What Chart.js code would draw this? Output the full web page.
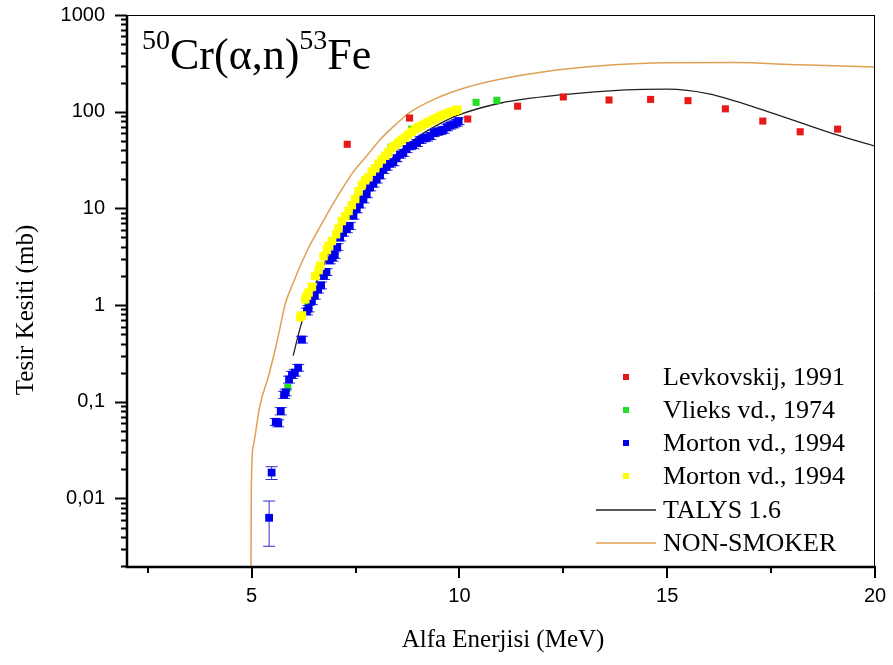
<!DOCTYPE html>
<html>
<head>
<meta charset="utf-8">
<script src="https://cdn.jsdelivr.net/npm/chart.js@4.4.1/dist/chart.umd.min.js"></script>
<style>
  html, body { margin: 0; padding: 0; background: #fff; }
</style>
</head>
<body>
<canvas id="chart" width="893" height="665"></canvas>
<script>
// Levkovskij, 1991
const levE = [7.3, 8.8, 10.2, 11.4, 12.5, 13.6, 14.6, 15.5, 16.4, 17.3, 18.2, 19.1]
const levXS = [46, 86, 84, 114, 142, 132, 134, 130, 107, 80, 62, 66]

// Vlieks vd., 1974
const vliE = [5.87, 6.35, 7.4, 8.35, 8.85, 10.4, 10.9]
const vliXS = [0.14, 1.0, 8.5, 43, 66, 125, 131]

// Morton vd., 1994 (blue, with error bars)
const morBlueE = [5.42, 5.48, 5.58, 5.64, 5.70, 5.78, 5.82, 5.90, 5.97, 6.04, 6.12, 6.21, 6.33, 6.37, 6.45,
  6.52, 6.60, 6.67, 6.74, 6.80, 6.88, 6.95, 7.00, 7.06, 7.13, 7.20, 7.29, 7.36, 7.45, 7.53, 7.60, 7.69,
  7.77, 7.85, 7.93, 8.01, 8.09, 8.17, 8.25, 8.33, 8.41, 8.49, 8.57, 8.65, 8.73, 8.81, 8.89, 8.98, 9.06,
  9.14, 9.22, 9.30, 9.38, 9.46, 9.54, 9.62, 9.70, 9.78, 9.86, 9.94, 9.98]
const morBlueXS = [0.0063, 0.0185, 0.062, 0.060, 0.080, 0.118, 0.125, 0.17, 0.19, 0.20, 0.225, 0.44, 0.86, 0.92, 1.1,
  1.25, 1.45, 1.6, 2.0, 2.2, 2.9, 3.1, 3.3, 4.0, 5.0, 5.6, 6.1, 6.6, 8.4, 9.8, 11, 12.4,
  14, 16.5, 18, 19.9, 22, 25, 27, 29, 30, 33, 36, 37.5, 41, 44, 45, 47.5, 51,
  53, 54, 56, 60, 62, 63, 65, 69, 72, 74, 77, 80]
const morBlueErr = [0.0031, 0.0028, 0.005, 0.005, 0.007, 0.01, 0.01, 0.014, 0.016, 0.016, 0.018, 0.035, 0.07, 0.07, 0.09,
  0.1, 0.12, 0.13, 0.16, 0.18, 0.23, 0.25, 0.26, 0.32, 0.4, 0.45, 0.5, 0.53, 0.67, 0.8, 0.9, 1.0,
  1.1, 1.3, 1.4, 1.6, 1.8, 2.0, 2.2, 2.3, 2.4, 2.6, 2.9, 3.0, 3.3, 3.5, 3.6, 3.8, 4.1,
  4.2, 4.3, 4.5, 4.8, 5.0, 5.0, 5.2, 5.5, 5.8, 5.9, 6.2, 6.4]

// Morton vd., 1994 (yellow)
const morYelE = [6.17, 6.21, 6.29, 6.33, 6.37, 6.45, 6.53, 6.61, 6.65, 6.73, 6.81, 6.85, 6.93, 7.03, 7.09,
  7.17, 7.25, 7.33, 7.41, 7.49, 7.57, 7.65, 7.73, 7.81, 7.89, 7.97, 8.05, 8.13, 8.21, 8.29, 8.37, 8.45,
  8.53, 8.61, 8.69, 8.77, 8.85, 8.93, 9.01, 9.09, 9.17, 9.25, 9.33, 9.41, 9.49, 9.57, 9.65, 9.73, 9.81,
  9.89, 9.95]
const morYelXS = [0.75, 0.78, 1.15, 1.25, 1.35, 1.55, 2.0, 2.3, 2.55, 3.2, 3.7, 4.1, 4.6, 5.4, 6.2,
  7.4, 8.3, 9.4, 10.8, 12.5, 15, 17.5, 19.5, 21, 24, 26, 29, 32, 35, 38, 42, 45,
  48, 51, 54, 58, 62, 66, 69, 72, 75, 78, 81, 84, 88, 91, 94, 97, 100,
  102, 105]

// TALYS 1.6
const talysE = [6.0, 6.1, 6.2, 6.35, 6.5, 6.75, 7.0, 7.25, 7.5, 8.0, 8.5, 9.0, 9.5, 10.0, 11.0, 12.5, 14.0, 15.0, 16.0, 17.4, 19.0, 20.0]
const talysXS = [0.3, 0.45, 0.65, 1.0, 1.5, 2.7, 5.0, 7.5, 11, 22, 37, 55, 74, 93, 123, 150, 168, 171, 153, 101, 59, 44]

// NON-SMOKER
const nsE = [4.985, 4.99, 5.04, 5.2, 5.4, 5.6, 5.75, 5.8, 6.0, 6.33, 6.65, 6.95, 7.2, 7.45, 7.77, 8.1, 8.5, 8.8, 9.4, 10.2, 11.0, 12.0, 13.4, 15.0, 16.6, 18.2, 20.0]
const nsXS = [0.002, 0.012, 0.035, 0.092, 0.18, 0.4, 0.8, 1.0, 1.7, 3.6, 6.5, 11, 16.5, 24, 35, 52, 76, 98, 135, 180, 218, 258, 298, 320, 322, 305, 290]

// axes
const xTicks = [2.5, 5, 7.5, 10, 12.5, 15, 17.5, 20]
const xTickLabels = ['', '5', '', '10', '', '15', '', '20']
const yMajor = [0.01, 0.1, 1, 10, 100, 1000]
const yTickLabels = ['0,01', '0,1', '1', '10', '100', '1000']

const serif = "'Liberation Serif', 'Times New Roman', serif"
const sans = "'Liberation Sans', Arial, sans-serif"

const pts = (xs, ys) => xs.map((x, i) => ({ x, y: ys[i] }))

// every 1..9 x 10^n step between 0.002 and 1000
const yAllTicks = []
for (let e = -3; e <= 2; e++) {
  for (let m = 1; m <= 9; m++) {
    const v = +(m * Math.pow(10, e)).toPrecision(3)
    if (v >= 0.002) yAllTicks.push(v)
  }
}
yAllTicks.push(1000)

const decor = {
  id: 'decor',
  beforeDatasetDraw(chart, args) {
    if (args.index !== 2) return
    const ctx = chart.ctx
    const ys = chart.scales.y
    const meta = chart.getDatasetMeta(2)
    ctx.save()
    ctx.strokeStyle = '#2f2fd0'
    ctx.lineWidth = 1
    meta.data.forEach((p, i) => {
      const v = morBlueXS[i], e = morBlueErr[i]
      const top = ys.getPixelForValue(v + e)
      const bot = ys.getPixelForValue(Math.max(v - e, 0.0001))
      ctx.beginPath()
      ctx.moveTo(p.x, top); ctx.lineTo(p.x, bot)
      ctx.moveTo(p.x - 6, top); ctx.lineTo(p.x + 6, top)
      ctx.moveTo(p.x - 6, bot); ctx.lineTo(p.x + 6, bot)
      ctx.stroke()
    })
    ctx.restore()
  },
  afterDraw(chart) {
    const ctx = chart.ctx
    const a = chart.chartArea
    const xs = chart.scales.x, ys = chart.scales.y
    ctx.save()
    ctx.strokeStyle = '#000'

    // frame
    ctx.lineWidth = 1
    ctx.beginPath()
    ctx.moveTo(a.left, a.top + 0.5); ctx.lineTo(a.right, a.top + 0.5)
    ctx.moveTo(a.right - 0.5, a.top); ctx.lineTo(a.right - 0.5, a.bottom)
    ctx.stroke()
    ctx.lineWidth = 2.5
    ctx.beginPath()
    ctx.moveTo(a.left, a.top); ctx.lineTo(a.left, a.bottom + 1)
    ctx.lineTo(a.right + 1, a.bottom + 1)
    ctx.stroke()

    // y ticks
    ctx.lineWidth = 2
    yAllTicks.forEach(v => {
      const py = Math.round(ys.getPixelForValue(v)) + 0.5
      const len = yMajor.includes(v) ? 12 : 6
      ctx.beginPath(); ctx.moveTo(a.left - len, py); ctx.lineTo(a.left, py); ctx.stroke()
    })
    // x ticks
    xTicks.forEach((v, i) => {
      const px = Math.round(xs.getPixelForValue(v))
      const len = xTickLabels[i] ? 12 : 7
      ctx.beginPath(); ctx.moveTo(px, a.bottom); ctx.lineTo(px, a.bottom + len); ctx.stroke()
    })

    // axis titles
    ctx.fillStyle = '#000'
    ctx.font = '25px ' + serif
    ctx.textAlign = 'center'
    ctx.textBaseline = 'middle'
    ctx.fillText('Alfa Enerjisi (MeV)', 503, 640)
    ctx.save()
    ctx.translate(26, 310)
    ctx.rotate(-Math.PI / 2)
    ctx.fillText('Tesir Kesiti (mb)', 0, 0)
    ctx.restore()

    // reaction label
    ctx.textAlign = 'left'
    ctx.textBaseline = 'alphabetic'
    let x = 142
    const base = 69
    const parts = [['50', 28, -20], ['Cr(α,n)', 44, 0], ['53', 28, -20], ['Fe', 44, 0]]
    parts.forEach(([t, size, dy]) => {
      ctx.font = size + 'px ' + serif
      ctx.fillText(t, x, base + dy)
      x += ctx.measureText(t).width
    })

    // legend
    const ds = chart.data.datasets
    ctx.font = '26px ' + serif
    ctx.textBaseline = 'middle'
    const rows = [377, 410, 443, 476, 510, 543]
    ds.forEach((d, i) => {
      const y = rows[i]
      if (d.showLine) {
        ctx.strokeStyle = d.borderColor
        ctx.lineWidth = d.borderWidth
        ctx.beginPath(); ctx.moveTo(596, y); ctx.lineTo(656, y); ctx.stroke()
      } else {
        ctx.fillStyle = d.backgroundColor
        ctx.fillRect(623, y - 3, 6, 6)
      }
      ctx.fillStyle = '#000'
      ctx.fillText(d.label, 663, y + 1)
    })
    ctx.restore()
  }
}

new Chart(document.getElementById('chart').getContext('2d'), {
  type: 'scatter',
  data: {
    datasets: [
      { label: 'Levkovskij, 1991', data: pts(levE, levXS), backgroundColor: '#e81818', pointStyle: 'rect', pointRadius: 5, borderWidth: 0, order: 0 },
      { label: 'Vlieks vd., 1974', data: pts(vliE, vliXS), backgroundColor: '#22e022', pointStyle: 'rect', pointRadius: 5, borderWidth: 0, order: 3 },
      { label: 'Morton vd., 1994', data: pts(morBlueE, morBlueXS), backgroundColor: '#0000ee', pointStyle: 'rect', pointRadius: 5.5, borderWidth: 0, order: 2 },
      { label: 'Morton vd., 1994', data: pts(morYelE, morYelXS), backgroundColor: '#ffff00', pointStyle: 'rect', pointRadius: 6, borderWidth: 0, order: 1 },
      { label: 'TALYS 1.6', data: pts(talysE, talysXS), showLine: true, borderColor: '#222222', borderWidth: 1.3, pointRadius: 0, cubicInterpolationMode: 'monotone', order: 4 },
      { label: 'NON-SMOKER', data: pts(nsE, nsXS), showLine: true, borderColor: '#e0a055', borderWidth: 1.5, pointRadius: 0, cubicInterpolationMode: 'monotone', order: 5 }
    ]
  },
  options: {
    responsive: false,
    animation: false,
    layout: { padding: { top: 15, right: 18, left: 0, bottom: 0 } },
    plugins: { legend: { display: false }, tooltip: { enabled: false } },
    scales: {
      x: {
        type: 'linear', min: 2, max: 20,
        afterBuildTicks: s => { s.ticks = xTicks.map(v => ({ value: v })) },
        afterFit: s => { s.height = 99; s.paddingLeft = 0; s.paddingRight = 0 },
        grid: { display: false, tickLength: 12 },
        border: { display: false },
        ticks: {
          autoSkip: false, maxRotation: 0, padding: 6, color: '#000',
          font: { family: sans, size: 20 },
          callback: v => xTickLabels[xTicks.indexOf(v)] ?? ''
        }
      },
      y: {
        type: 'logarithmic', min: 0.002, max: 1000,
        afterBuildTicks: s => { s.ticks = yAllTicks.map(v => ({ value: v })) },
        afterFit: s => { s.width = 127; s.paddingTop = 0; s.paddingBottom = 0 },
        grid: { display: false, tickLength: 12 },
        border: { display: false },
        ticks: {
          autoSkip: false, padding: 10, color: '#000',
          font: { family: sans, size: 20 },
          callback: v => { const i = yMajor.indexOf(v); return i >= 0 ? yTickLabels[i] : '' }
        }
      }
    }
  },
  plugins: [decor]
})
</script>
</body>
</html>
